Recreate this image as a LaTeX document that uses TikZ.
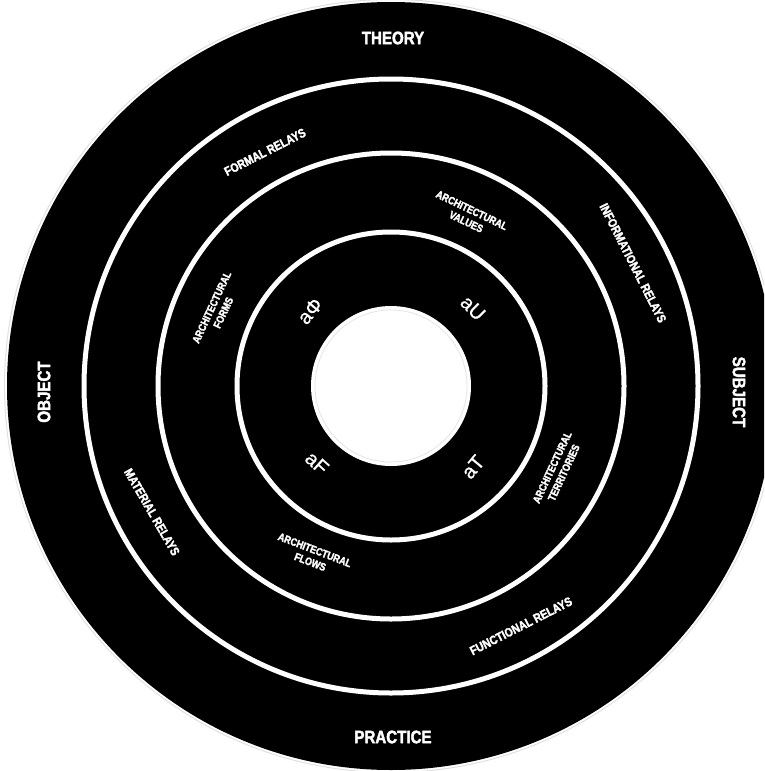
\documentclass[tikz,border=0pt]{standalone}
\usepackage{fontspec}
\setmainfont{Liberation Sans}
\newfontfamily\condbold{Liberation Sans}[UprightFont={* Bold},FakeStretch=0.84,FakeBold=2.2]
\newfontfamily\symfont{Liberation Sans}[FakeBold=0.8]
\begin{document}
\begin{tikzpicture}[x=1pt,y=-1pt,
  big/.style={text=white,font=\condbold\fontsize{18}{18}\selectfont,inner sep=0},
  relay/.style={text=white,font=\condbold\fontsize{12.5}{12.5}\selectfont,inner sep=0},
  arch/.style={text=white,font=\condbold\fontsize{10.8}{12.8}\selectfont,inner sep=0,align=center},
  sym/.style={text=white,font=\symfont\fontsize{20}{20}\selectfont,inner sep=0},
  ring/.style={draw=white,line width=5pt}]
\useasboundingbox (0,0) rectangle (764,771);
\begin{scope}
\clip (0,0) rectangle (764,771);
\coordinate (c) at (391,386);
\fill[black] (c) circle[radius=384];
\draw[black!12,line width=1pt] (c) circle[radius=386.5];
\draw[ring] (c) circle[radius=307];
\draw[ring] (c) circle[radius=233];
\draw[ring] (c) circle[radius=154];
\fill[white] (c) circle[radius=80];
\draw[black!10,line width=0.8pt] (c) circle[radius=76];
\end{scope}
\node[big] (theory) at (393,38) {THEORY};
\node[big] (practice) at (393,737) {PRACTICE};
\node[big,rotate=-90] (subject) at (739,392) {SUBJECT};
\node[big,rotate=90] (object) at (44,392) {OBJECT};
\node[relay,rotate=27] (formal) at (265,152) {FORMAL RELAYS};
\node[relay,rotate=-63] (info) at (633,263) {INFORMATIONAL RELAYS};
\node[relay,rotate=-60] (material) at (152,512) {MATERIAL RELAYS};
\node[relay,rotate=27] (functional) at (521,626) {FUNCTIONAL RELAYS};
\node[arch,rotate=-25.6] (values) at (469,216) {ARCHITECTURAL\\VALUES};
\node[arch,rotate=65] (forms) at (217.5,310) {ARCHITECTURAL\\FORMS};
\node[arch,rotate=65] (territories) at (558,470) {ARCHITECTURAL\\TERRITORIES};
\node[arch,rotate=-21] (flows) at (312.5,556) {ARCHITECTURAL\\FLOWS};
\node[sym,rotate=50] (aphi) at (310,311) {aΦ};
\node[sym,rotate=-45] (au) at (473,308) {aU};
\node[sym,rotate=-42] (af) at (317,463) {aF};
\node[sym,rotate=50] (at) at (473,467) {aT};
\end{tikzpicture}
\end{document}
